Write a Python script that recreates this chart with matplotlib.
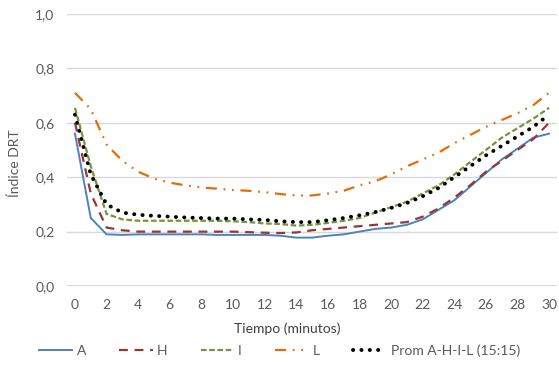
import numpy as np
import matplotlib
matplotlib.use("Agg")
import matplotlib.pyplot as plt

# Tiempo (minutos)
t = list(range(31))

# Índice DRT por muestra
a = [0.56, 0.25, 0.19, 0.188, 0.19, 0.19, 0.19, 0.19, 0.19, 0.188, 0.188,
     0.188, 0.188, 0.185, 0.178, 0.178, 0.185, 0.19, 0.20, 0.21, 0.215,
     0.225, 0.245, 0.28, 0.315, 0.365, 0.415, 0.465, 0.505, 0.545, 0.56]
h = [0.60, 0.34, 0.215, 0.205, 0.20, 0.20, 0.20, 0.20, 0.20, 0.20, 0.20,
     0.198, 0.196, 0.195, 0.197, 0.205, 0.21, 0.215, 0.22, 0.225, 0.23,
     0.235, 0.255, 0.285, 0.325, 0.37, 0.42, 0.46, 0.50, 0.54, 0.60]
i_ = [0.655, 0.44, 0.265, 0.245, 0.24, 0.24, 0.24, 0.24, 0.24, 0.24, 0.238,
      0.235, 0.23, 0.228, 0.222, 0.225, 0.232, 0.24, 0.25, 0.27, 0.29,
      0.31, 0.34, 0.37, 0.41, 0.455, 0.50, 0.545, 0.58, 0.615, 0.655]
l = [0.71, 0.65, 0.52, 0.46, 0.42, 0.395, 0.38, 0.37, 0.362, 0.358, 0.353,
     0.35, 0.345, 0.338, 0.333, 0.333, 0.34, 0.35, 0.37, 0.385, 0.41,
     0.44, 0.465, 0.49, 0.525, 0.555, 0.585, 0.61, 0.635, 0.665, 0.71]
prom = [0.63, 0.41, 0.30, 0.27, 0.262, 0.258, 0.255, 0.252, 0.25, 0.248, 0.248,
        0.245, 0.243, 0.238, 0.235, 0.235, 0.242, 0.25, 0.26, 0.272, 0.287,
        0.305, 0.33, 0.36, 0.40, 0.44, 0.48, 0.515, 0.55, 0.585, 0.63]

xticks = list(range(0, 31, 2))
yticks = [0.0, 0.2, 0.4, 0.6, 0.8, 1.0]

plt.rcParams['font.family'] = ['Lato', 'DejaVu Sans']
gris = "#595959"

fig = plt.figure(figsize=(5.59, 3.72), dpi=100)
ax = fig.add_axes([0.12, 0.231, 0.8764, 0.7316])

ax.plot(t, a, color="#4F81BD", lw=1.4, label="A")
ax.plot(t, h, color="#953735", lw=1.6, dashes=(4, 3), label="H")
ax.plot(t, i_, color="#77933C", lw=1.6, dashes=(2.5, 1.2), label="I")
ax.plot(t, l, color="#E46C0A", lw=1.6, dashes=(5, 3, 0.8, 3, 0.8, 3), label="L")
ax.plot(t, prom, color="black", lw=2.8, linestyle=(0, (0.05, 2.1)),
        dash_capstyle="round", label="Prom A-H-I-L (15:15)")

ax.set_xlim(-0.5, 30.5)
ax.set_ylim(0, 1.0)
ax.set_xticks(xticks)
ax.set_yticks(yticks)
ax.set_yticklabels([("%.1f" % v).replace(".", ",") for v in yticks])
ax.grid(axis="y", color="#D9D9D9", lw=1)
ax.axhline(0, color="#D9D9D9", lw=1.5)
for s in ax.spines.values():
    s.set_visible(False)
ax.tick_params(length=0, colors=gris, labelsize=10, pad=9)
ax.set_axisbelow(True)

ax.set_xlabel("Tiempo (minutos)", color="#404040", fontsize=10)
ax.xaxis.set_label_coords(0.45, -0.135)
ax.set_ylabel("Índice DRT", color=gris, fontsize=10)
ax.yaxis.set_label_coords(-0.095, 0.45)

fig.legend(loc="center", bbox_to_anchor=(0.5, 0.057), ncol=5, frameon=False,
           fontsize=10, labelcolor=gris, handlelength=2.4, handletextpad=0.3,
           columnspacing=2.4)

fig.savefig("out.png", dpi=100)
